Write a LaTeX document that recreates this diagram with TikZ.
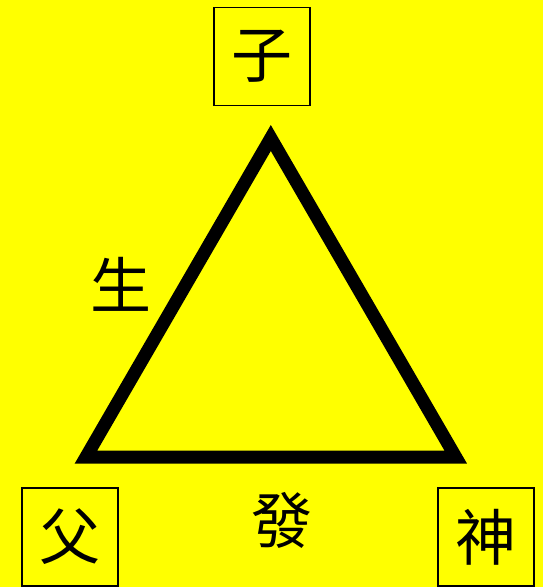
\documentclass[tikz,border=0pt]{standalone}
\usepackage{fontspec}
\newfontfamily\cjk{Noto Sans CJK TC}
\usepackage{tikz}

\definecolor{bgyellow}{RGB}{255,255,0}

\tikzset{
  personbox/.style = {draw, line width=1.5pt, minimum width=96pt, minimum height=98pt,
                      inner sep=0pt, font=\cjk\fontsize{61}{61}\selectfont},
  verblabel/.style = {inner sep=0pt, font=\cjk\fontsize{61}{61}\selectfont}
}

\begin{document}
\begin{tikzpicture}[x=1pt,y=-1pt]

% background
\fill[bgyellow] (0,0) rectangle (543,587);
\useasboundingbox (0,0) rectangle (543,587);

% the three persons
\node[personbox] (son)    at (262,56.5)  {子};
\node[personbox] (father) at (70,537)    {父};
\node[personbox] (spirit) at (486,537)   {神};

% corners of the triangle
\coordinate (top)   at (270.8,138);
\coordinate (left)  at (86,457);
\coordinate (right) at (455.7,457);

% the triangle
\draw[line width=13pt, miter limit=10] (top) -- (right) -- (left) -- cycle;

% relations
\node[verblabel] (begets)   at (121,284) {生};
\node[verblabel] (proceeds) at (282,520) {發};

\end{tikzpicture}
\end{document}
